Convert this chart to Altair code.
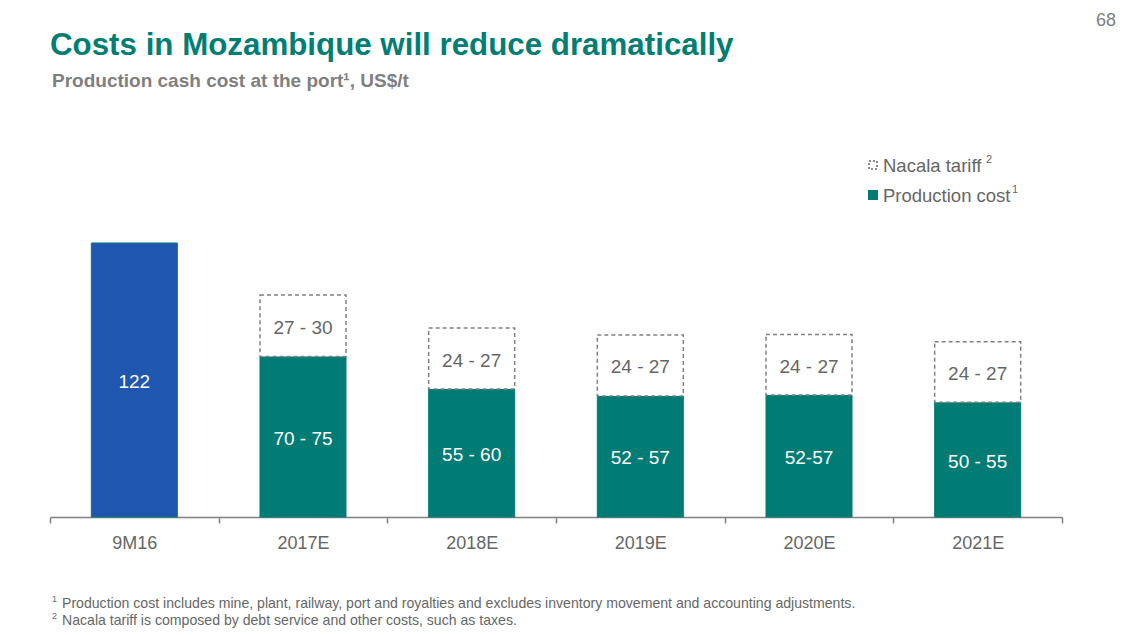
import altair as alt
import pandas as pd

categories = ["9M16", "2017E", "2018E", "2019E", "2020E", "2021E"]
production = [122.0, 71.4, 57.0, 53.9, 54.3, 51.1]
tariff = [None, 27.4, 27.1, 27.1, 27.0, 26.9]
production_labels = ["122", "70 - 75", "55 - 60", "52 - 57", "52-57", "50 - 55"]
tariff_labels = [None, "27 - 30", "24 - 27", "24 - 27", "24 - 27", "24 - 27"]

legend_labels = ["Nacala tariff", "Production cost"]
legend_sups = ["2", "1"]
title_text = "Costs in Mozambique will reduce dramatically"
subtitle_text = "Production cash cost at the port\u00b9, US$/t"
page_number = "68"
footnotes = [
    "Production cost includes mine, plant, railway, port and royalties and excludes inventory movement and accounting adjustments.",
    "Nacala tariff is composed by debt service and other costs, such as taxes.",
]
footnote_marks = ["1", "2"]

TEAL = "#007C74"
BLUE = "#1F56B0"
GRAY = "#666666"
FONT = "Liberation Sans"

df = pd.DataFrame({
    "cat": categories,
    "prod": production,
    "tariff": tariff,
    "plabel": production_labels,
    "tlabel": tariff_labels,
})
df["top"] = df["prod"] + df["tariff"].fillna(0)

W, H = 1012, 292
xenc = alt.X("cat:N", sort=categories, title=None,
             scale=alt.Scale(paddingInner=0, paddingOuter=0),
             axis=alt.Axis(labelAngle=0, labelFont=FONT, labelFontSize=18, labelColor=GRAY,
                           labelPadding=11, domainColor="#808080", domainWidth=1.5,
                           tickColor="#808080", tickWidth=1.5, tickSize=6, tickBand="extent"))
yscale = alt.Scale(domain=[0, 130])

base = alt.Chart(df)

prod_bars = base.mark_bar(width={"band": 0.51}, strokeWidth=1).encode(
    x=xenc,
    y=alt.Y("prod:Q", scale=yscale, axis=None),
    y2=alt.datum(0),
    fill=alt.condition("datum.cat == '9M16'", alt.value(BLUE), alt.value(TEAL)),
    stroke=alt.value(TEAL),
)

tariff_bars = base.transform_filter("datum.tariff != null").mark_bar(
    width={"band": 0.51}, fill="white", stroke="#808080", strokeWidth=1.5, strokeDash=[4, 3]
).encode(
    x=alt.X("cat:N", sort=categories),
    y=alt.Y("top:Q", scale=yscale),
    y2="prod:Q",
)

prod_text = base.transform_calculate(mid="datum.prod / 2").mark_text(
    font=FONT, fontSize=19, color="white", baseline="middle", dy=2
).encode(
    x=alt.X("cat:N", sort=categories),
    y=alt.Y("mid:Q", scale=yscale),
    text="plabel:N",
)

tariff_text = base.transform_filter("datum.tariff != null").transform_calculate(
    mid="(datum.prod + datum.top) / 2"
).mark_text(font=FONT, fontSize=19, color=GRAY, baseline="middle", dy=2).encode(
    x=alt.X("cat:N", sort=categories),
    y=alt.Y("mid:Q", scale=yscale),
    text="tlabel:N",
)

one = pd.DataFrame({"a": [0]})
ann = alt.Chart(one)

title = ann.mark_text(font=FONT, fontSize=31.3, fontWeight="bold", color="#007E74",
                      align="left", baseline="alphabetic").encode(
    x=alt.value(0), y=alt.value(-170), text=alt.value(title_text))
subtitle = ann.mark_text(font=FONT, fontSize=19, fontWeight="bold", color="#7F7F7F",
                         align="left", baseline="alphabetic").encode(
    x=alt.value(2), y=alt.value(-138), text=alt.value(subtitle_text))
page = ann.mark_text(font=FONT, fontSize=18, color="#7F7F7F",
                     align="right", baseline="alphabetic").encode(
    x=alt.value(1066), y=alt.value(-199), text=alt.value(page_number))

leg_sym1 = ann.mark_rect(fill="white", stroke="#666666", strokeWidth=1.5, strokeDash=[2, 2]).encode(
    x=alt.value(819), x2=alt.value(827), y=alt.value(-64), y2=alt.value(-56))
leg_sym2 = ann.mark_rect(fill=TEAL).encode(
    x=alt.value(818), x2=alt.value(828), y=alt.value(-35), y2=alt.value(-25))
leg_t1 = ann.mark_text(font=FONT, fontSize=18.5, color=GRAY, align="left", baseline="middle").encode(
    x=alt.value(833), y=alt.value(-59), text=alt.value(legend_labels[0]))
leg_t2 = ann.mark_text(font=FONT, fontSize=18.5, color=GRAY, align="left", baseline="middle").encode(
    x=alt.value(833), y=alt.value(-29), text=alt.value(legend_labels[1]))
leg_s1 = ann.mark_text(font=FONT, fontSize=11, color=GRAY, align="left", baseline="middle").encode(
    x=alt.value(936), y=alt.value(-65), text=alt.value(legend_sups[0]))
leg_s2 = ann.mark_text(font=FONT, fontSize=11, color=GRAY, align="left", baseline="middle").encode(
    x=alt.value(962), y=alt.value(-35), text=alt.value(legend_sups[1]))

fn1 = ann.mark_text(font=FONT, fontSize=14.1, color=GRAY, align="left", baseline="alphabetic").encode(
    x=alt.value(12), y=alt.value(383), text=alt.value(footnotes[0]))
fn2 = ann.mark_text(font=FONT, fontSize=14.1, color=GRAY, align="left", baseline="alphabetic").encode(
    x=alt.value(12), y=alt.value(400), text=alt.value(footnotes[1]))
fm1 = ann.mark_text(font=FONT, fontSize=9, color=GRAY, align="left", baseline="alphabetic").encode(
    x=alt.value(2), y=alt.value(377), text=alt.value(footnote_marks[0]))
fm2 = ann.mark_text(font=FONT, fontSize=9, color=GRAY, align="left", baseline="alphabetic").encode(
    x=alt.value(2), y=alt.value(394), text=alt.value(footnote_marks[1]))

chart = alt.layer(
    prod_bars, tariff_bars, prod_text, tariff_text,
    title, subtitle, page, leg_sym1, leg_sym2, leg_t1, leg_t2, leg_s1, leg_s2,
    fn1, fn2, fm1, fm2,
).properties(
    width=W, height=H,
    padding={"left": 50, "top": 225, "right": 66, "bottom": 118},
    autosize=alt.AutoSizeParams(type="none"),
).configure(
    background="white",
    view=alt.ViewConfig(strokeOpacity=0, strokeWidth=0),
)

chart.save("out.html", embed_options={"renderer": "svg", "actions": False})
